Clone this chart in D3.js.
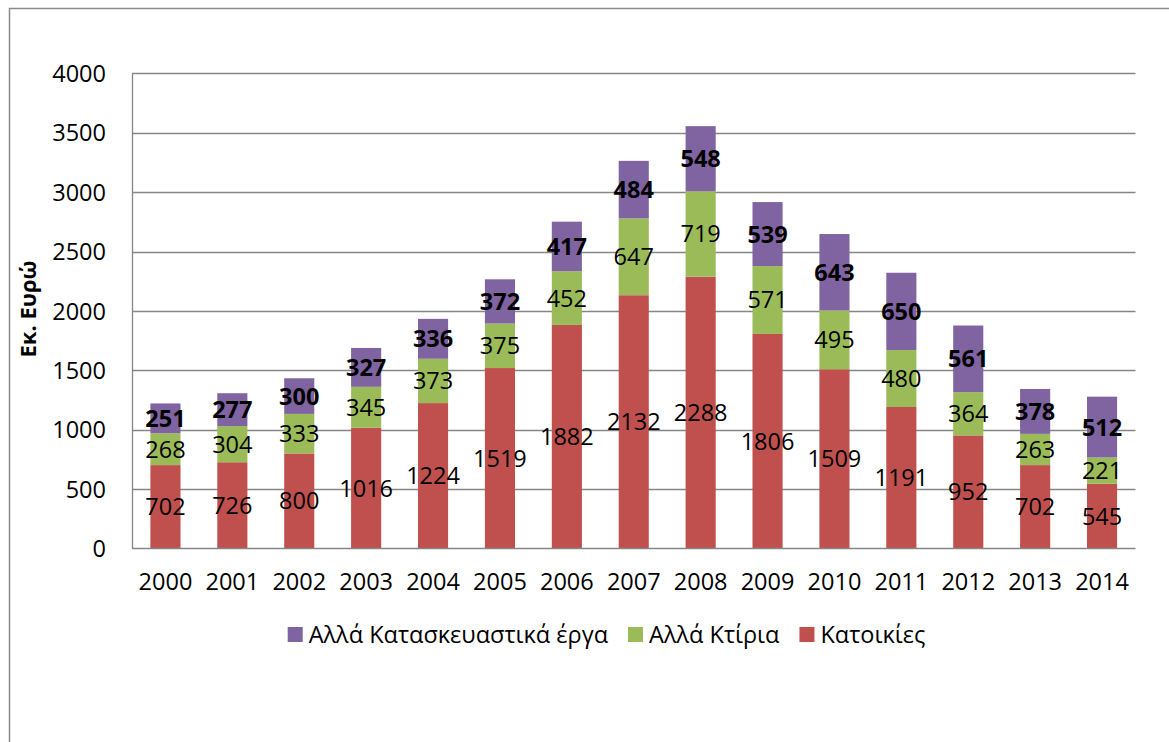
<!DOCTYPE html>
<html>
<head>
<meta charset="utf-8">
<script src="https://cdn.jsdelivr.net/npm/d3@7"></script>
<style>
  html, body { margin: 0; padding: 0; background: #fff; }
  svg { display: block; font-family: "Open Sans", "Noto Sans", sans-serif; }
</style>
</head>
<body>
<svg id="chart" width="1169" height="742"></svg>
<script>
// Construction output by type, million euro
const years = ["2000","2001","2002","2003","2004","2005","2006","2007","2008","2009","2010","2011","2012","2013","2014"];
const housing = [702, 726, 800, 1016, 1224, 1519, 1882, 2132, 2288, 1806, 1509, 1191, 952, 702, 545];
const otherBuildings = [268, 304, 333, 345, 373, 375, 452, 647, 719, 571, 495, 480, 364, 263, 221];
const otherWorks = [251, 277, 300, 327, 336, 372, 417, 484, 548, 539, 643, 650, 561, 378, 512];
const yTicks = [0, 500, 1000, 1500, 2000, 2500, 3000, 3500, 4000];

const seriesNames = ["Κατοικίες", "Αλλά Κτίρια", "Αλλά Κατασκευαστικά έργα"];
const seriesKeys = ["housing", "otherBuildings", "otherWorks"];
const colors = { housing: "#C0504D", otherBuildings: "#9BBB59", otherWorks: "#8064A2" };

const rows = years.map((y, i) => ({
  year: y,
  housing: housing[i],
  otherBuildings: otherBuildings[i],
  otherWorks: otherWorks[i]
}));

const svg = d3.select("#chart");
const grid = "#868686";
const fontSize = 23.5;

// outer chart frame
svg.append("rect")
  .attr("x", 9.5).attr("y", 8.5)
  .attr("width", 1300).attr("height", 900)
  .attr("fill", "none").attr("stroke", "#8a8a8a").attr("stroke-width", 1.5);

const plot = { left: 132, right: 1135.5, top: 73.3, bottom: 548.5 };

const x = d3.scaleBand().domain(years).range([plot.left, plot.right]).paddingInner(0.55).paddingOuter(0.275);
const y = d3.scaleLinear().domain([0, 4000]).range([plot.bottom, plot.top]);

// horizontal gridlines
svg.append("g").selectAll("line").data(yTicks.filter(t => t > 0)).join("line")
  .attr("x1", plot.left).attr("x2", plot.right)
  .attr("y1", d => Math.round(y(d)) + 0.5).attr("y2", d => Math.round(y(d)) + 0.5)
  .attr("stroke", grid).attr("stroke-width", 1.3);

// y axis labels
const yAxis = d3.axisLeft(y).tickValues(yTicks).tickSize(0).tickPadding(26).tickFormat(d3.format("d"));
const gy = svg.append("g").attr("transform", `translate(${plot.left},0)`).call(yAxis);
gy.select(".domain").remove();
gy.selectAll("text").attr("font-size", fontSize).attr("font-family", "Open Sans").attr("fill", "#000")
  .attr("dy", "0.35em");

// stacked bars
const stack = d3.stack().keys(seriesKeys);
const layers = stack(rows);

const gBars = svg.append("g");
layers.forEach(layer => {
  gBars.append("g").selectAll("rect").data(layer).join("rect")
    .attr("x", d => x(d.data.year))
    .attr("width", x.bandwidth())
    .attr("y", d => y(d[1]))
    .attr("height", d => y(d[0]) - y(d[1]))
    .attr("fill", colors[layer.key]);
});

// axes lines
svg.append("line")
  .attr("x1", plot.left + 0.5).attr("x2", plot.left + 0.5)
  .attr("y1", plot.top).attr("y2", plot.bottom)
  .attr("stroke", grid).attr("stroke-width", 1.3);
svg.append("line")
  .attr("x1", plot.left).attr("x2", plot.right)
  .attr("y1", plot.bottom).attr("y2", plot.bottom)
  .attr("stroke", grid).attr("stroke-width", 1.3);

// x axis labels
const xAxis = d3.axisBottom(x).tickSize(0).tickPadding(25);
const gx = svg.append("g").attr("transform", `translate(0,${plot.bottom})`).call(xAxis);
gx.select(".domain").remove();
gx.selectAll("text").attr("font-size", fontSize).attr("font-family", "Open Sans").attr("fill", "#000");

// value labels, centred in each segment
const gLabels = svg.append("g");
layers.forEach(layer => {
  gLabels.append("g").selectAll("text").data(layer).join("text")
    .attr("x", d => x(d.data.year) + x.bandwidth() / 2)
    .attr("y", d => (y(d[0]) + y(d[1])) / 2)
    .attr("dy", "0.36em")
    .attr("text-anchor", "middle")
    .attr("font-size", fontSize)
    .attr("font-weight", layer.key === "otherWorks" ? 700 : 400)
    .attr("fill", "#000")
    .text(d => d.data[layer.key]);
});

// y axis title
svg.append("text")
  .attr("transform", "translate(36,309) rotate(-90)")
  .attr("text-anchor", "middle")
  .attr("font-size", 22)
  .attr("font-weight", 700)
  .attr("fill", "#000")
  .text("Εκ. Ευρώ");

// legend (reverse order, purple first)
const legendOrder = [2, 1, 0];
const legend = svg.append("g");
const items = legendOrder.map(i => ({ name: seriesNames[i], key: seriesKeys[i] }));
const sw = 15, gapAfterSwatch = 6, gapBetween = 20;
const tmp = items.map(it => {
  const t = legend.append("text").attr("font-size", fontSize).attr("fill", "#000").text(it.name);
  return { ...it, node: t, w: t.node().getComputedTextLength() };
});
const total = d3.sum(tmp, d => sw + gapAfterSwatch + d.w) + gapBetween * (tmp.length - 1);
let cx = 606.5 - total / 2;
const ly = 634.5;
tmp.forEach(d => {
  legend.append("rect")
    .attr("x", cx).attr("y", ly - 7.5).attr("width", sw).attr("height", sw)
    .attr("fill", colors[d.key]);
  d.node.attr("x", cx + sw + gapAfterSwatch).attr("y", ly).attr("dy", "0.35em");
  cx += sw + gapAfterSwatch + d.w + gapBetween;
});
</script>
</body>
</html>
